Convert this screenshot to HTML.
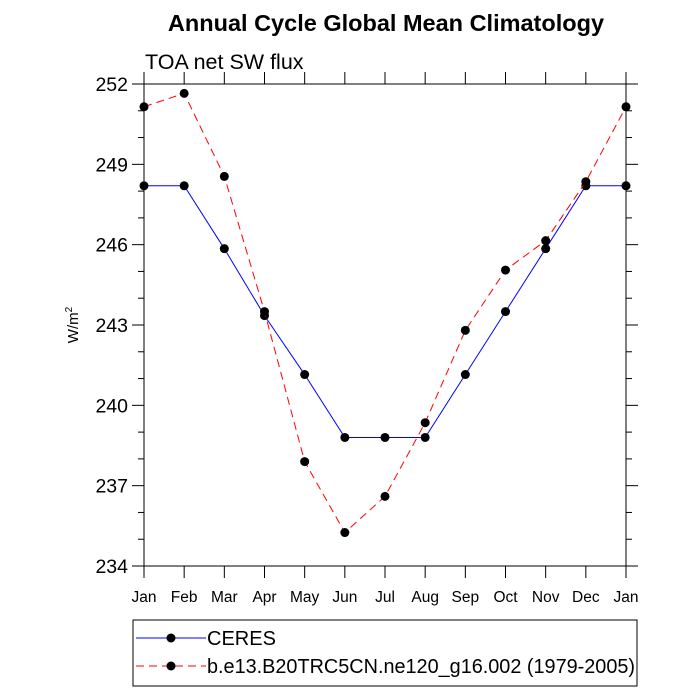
<!DOCTYPE html>
<html><head><meta charset="utf-8"><style>
body{margin:0;background:#fff}
svg{display:block;font-family:"Liberation Sans",Arial,sans-serif}
</style></head><body>
<svg id="c" width="700" height="700" viewBox="0 0 700 700">
<text x="386" y="31" text-anchor="middle" font-size="23.5" font-weight="bold">Annual Cycle Global Mean Climatology</text>
<text x="145" y="69" font-size="21.5">TOA net SW flux</text>
<text transform="translate(78,325) rotate(-90)" text-anchor="middle" font-size="15">W/m<tspan dy="-6" font-size="10">2</tspan></text>
<g id="axes"></g>
<g id="series"></g>
<rect x="133" y="620" width="504" height="66" fill="none" stroke="#000" stroke-width="1"/>
<g>
<line x1="136" y1="638" x2="206" y2="638" stroke="#00f" stroke-width="1"/>
<circle cx="171" cy="638" r="4.5" fill="#000"/>
<text x="207" y="645" font-size="20">CERES</text>
</g>
<g>
<line x1="136" y1="666" x2="206" y2="666" stroke="#f00" stroke-width="1" stroke-dasharray="8,5"/>
<circle cx="171" cy="666" r="4.5" fill="#000"/>
<text x="207" y="673" font-size="20" textLength="428" lengthAdjust="spacingAndGlyphs">b.e13.B20TRC5CN.ne120_g16.002 (1979-2005)</text>
</g>
</svg>
<script>
const months = ["Jan","Feb","Mar","Apr","May","Jun","Jul","Aug","Sep","Oct","Nov","Dec","Jan"];
const ceres = [248.2,248.2,245.85,243.35,241.15,238.8,238.8,238.8,241.15,243.5,245.85,248.2,248.2];
const model = [251.15,251.65,248.55,243.5,237.9,235.25,236.6,239.35,242.8,245.05,246.15,248.35,251.15];
const yTicks = [234,237,240,243,246,249,252];
const NS="http://www.w3.org/2000/svg";
const X0=144,X1=626,Y0=566,Y1=84,YMIN=234,YMAX=252;
const xs=i=>X0+(X1-X0)*i/(months.length-1);
const ys=v=>Y0-(Y0-Y1)*(v-YMIN)/(YMAX-YMIN);
function mk(tag,attrs,parent){const e=document.createElementNS(NS,tag);for(const k in attrs)e.setAttribute(k,attrs[k]);parent.appendChild(e);return e;}
const ax=document.getElementById('axes');
const frame=mk('rect',{x:X0,y:Y1,width:X1-X0,height:Y0-Y1,fill:'none',stroke:'#000','stroke-width':1},ax);


for(let v=YMIN;v<=YMAX;v++){
  const y=ys(v),maj=yTicks.includes(v),L=maj?12:6;
  mk('line',{x1:X0-L,y1:y,x2:X0,y2:y,stroke:'#000'},ax);
  mk('line',{x1:X1,y1:y,x2:X1+L,y2:y,stroke:'#000'},ax);
}
yTicks.forEach(v=>{
  const t=mk('text',{x:X0-16,y:ys(v)+7,'text-anchor':'end','font-size':19.5},ax);
  t.textContent=v;
  
  
});
months.forEach((m,i)=>{
  const x=xs(i);
  mk('line',{x1:x,y1:Y0,x2:x,y2:Y0+12,stroke:'#000'},ax);
  mk('line',{x1:x,y1:Y1-12,x2:x,y2:Y1,stroke:'#000'},ax);
  const t=mk('text',{x:x,y:Y0+36,'text-anchor':'middle','font-size':15.5},ax);
  t.textContent=m;
  
  
});
const sg=document.getElementById('series');
function series(vals,color,dash,name){
  const g=mk('g',{},sg);
  
  
  const p=mk('polyline',{points:vals.map((v,i)=>xs(i)+','+ys(v)).join(' '),fill:'none',stroke:color,'stroke-width':1},g);
  if(dash)p.setAttribute('stroke-dasharray',dash);
  vals.forEach((v,i)=>{
    const c=mk('circle',{cx:xs(i),cy:ys(v),r:4.5,fill:'#000'},g);
    
    
  });
}
series(ceres,'#00f',null,'ceres-series');
series(model,'#f00','8,5','model-series');
</script>
</body></html>
